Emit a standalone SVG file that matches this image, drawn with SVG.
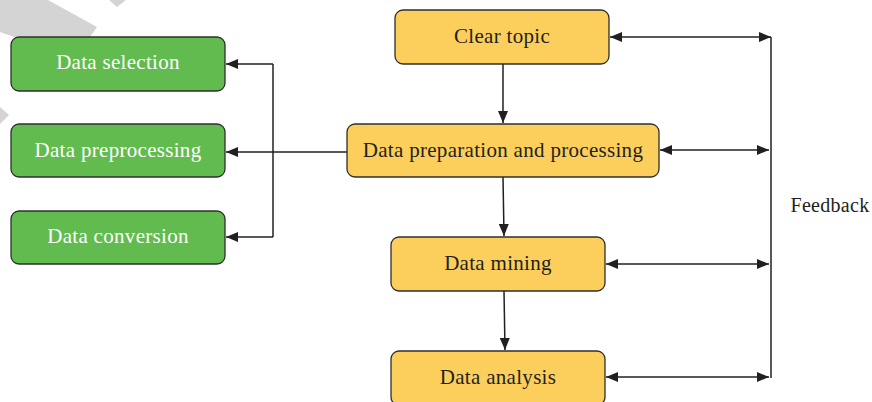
<svg xmlns="http://www.w3.org/2000/svg" width="872" height="402" viewBox="0 0 872 402">
<style>
.g{fill:#62bb4f;stroke:#2f2f2f;stroke-width:1.3}
.y{fill:#fccf5c;stroke:#2f2f2f;stroke-width:1.3}
.t{font-family:"Liberation Serif","Times New Roman",serif;font-size:21px;text-anchor:middle;letter-spacing:0.3px}
.tw{fill:#ffffff}
.tk{fill:#231f20}
.c{fill:none;stroke:#231f20;stroke-width:1.5}
.wm{fill:#d4d4d4}
</style>
<defs>
<marker id="ah" markerUnits="userSpaceOnUse" markerWidth="13" markerHeight="10" refX="12" refY="5" orient="auto-start-reverse" viewBox="0 0 13 10">
<path d="M0,0 L12,5 L0,10 z" fill="#231f20"/>
</marker>
</defs>
<g id="watermark">
<polygon class="wm" points="0,0 48,0 97,27 90,37 14,37 0,32"/>
<polygon class="wm" points="109,0 126,0 117,7"/>
<polygon class="wm" points="0,107 9,115 0,124"/>
</g>
<g id="connectors">
<line class="c" x1="503" y1="64" x2="503" y2="123" marker-end="url(#ah)"/>
<line class="c" x1="503" y1="177" x2="504" y2="236" marker-end="url(#ah)"/>
<line class="c" x1="504" y1="291" x2="505" y2="350" marker-end="url(#ah)"/>
<line class="c" x1="347" y1="152" x2="226" y2="152" marker-end="url(#ah)"/>
<line class="c" x1="273" y1="64" x2="273" y2="237"/>
<line class="c" x1="273" y1="64" x2="226" y2="64" marker-end="url(#ah)"/>
<line class="c" x1="273" y1="237" x2="226" y2="237" marker-end="url(#ah)"/>
<line class="c" x1="771" y1="37" x2="771" y2="378"/>
<line class="c" x1="610" y1="37" x2="771" y2="37" marker-start="url(#ah)" marker-end="url(#ah)"/>
<line class="c" x1="660" y1="150" x2="769" y2="150" marker-start="url(#ah)" marker-end="url(#ah)"/>
<line class="c" x1="606" y1="264" x2="769" y2="264" marker-start="url(#ah)" marker-end="url(#ah)"/>
<line class="c" x1="606" y1="377" x2="769" y2="377" marker-start="url(#ah)" marker-end="url(#ah)"/>
</g>
<g id="data-selection">
<rect class="g" x="11" y="37" width="214" height="54" rx="8"/>
<text class="t tw" x="118" y="69">Data selection</text>
</g>
<g id="data-preprocessing">
<rect class="g" x="11" y="124" width="214" height="53" rx="8"/>
<text class="t tw" x="118" y="157">Data preprocessing</text>
</g>
<g id="data-conversion">
<rect class="g" x="11" y="211" width="214" height="53" rx="8"/>
<text class="t tw" x="118" y="243">Data conversion</text>
</g>
<g id="clear-topic">
<rect class="y" x="395" y="10" width="214" height="54" rx="8"/>
<text class="t tk" x="502" y="43">Clear topic</text>
</g>
<g id="data-preparation">
<rect class="y" x="347" y="124" width="312" height="53" rx="8"/>
<text class="t tk" x="503" y="157">Data preparation and processing</text>
</g>
<g id="data-mining">
<rect class="y" x="391" y="237" width="214" height="54" rx="8"/>
<text class="t tk" x="498" y="270">Data mining</text>
</g>
<g id="data-analysis">
<rect class="y" x="391" y="351" width="214" height="54" rx="8"/>
<text class="t tk" x="498" y="384">Data analysis</text>
</g>
<g id="feedback">
<text class="t tk" x="830" y="212" style="font-size:20px">Feedback</text>
</g>
</svg>
